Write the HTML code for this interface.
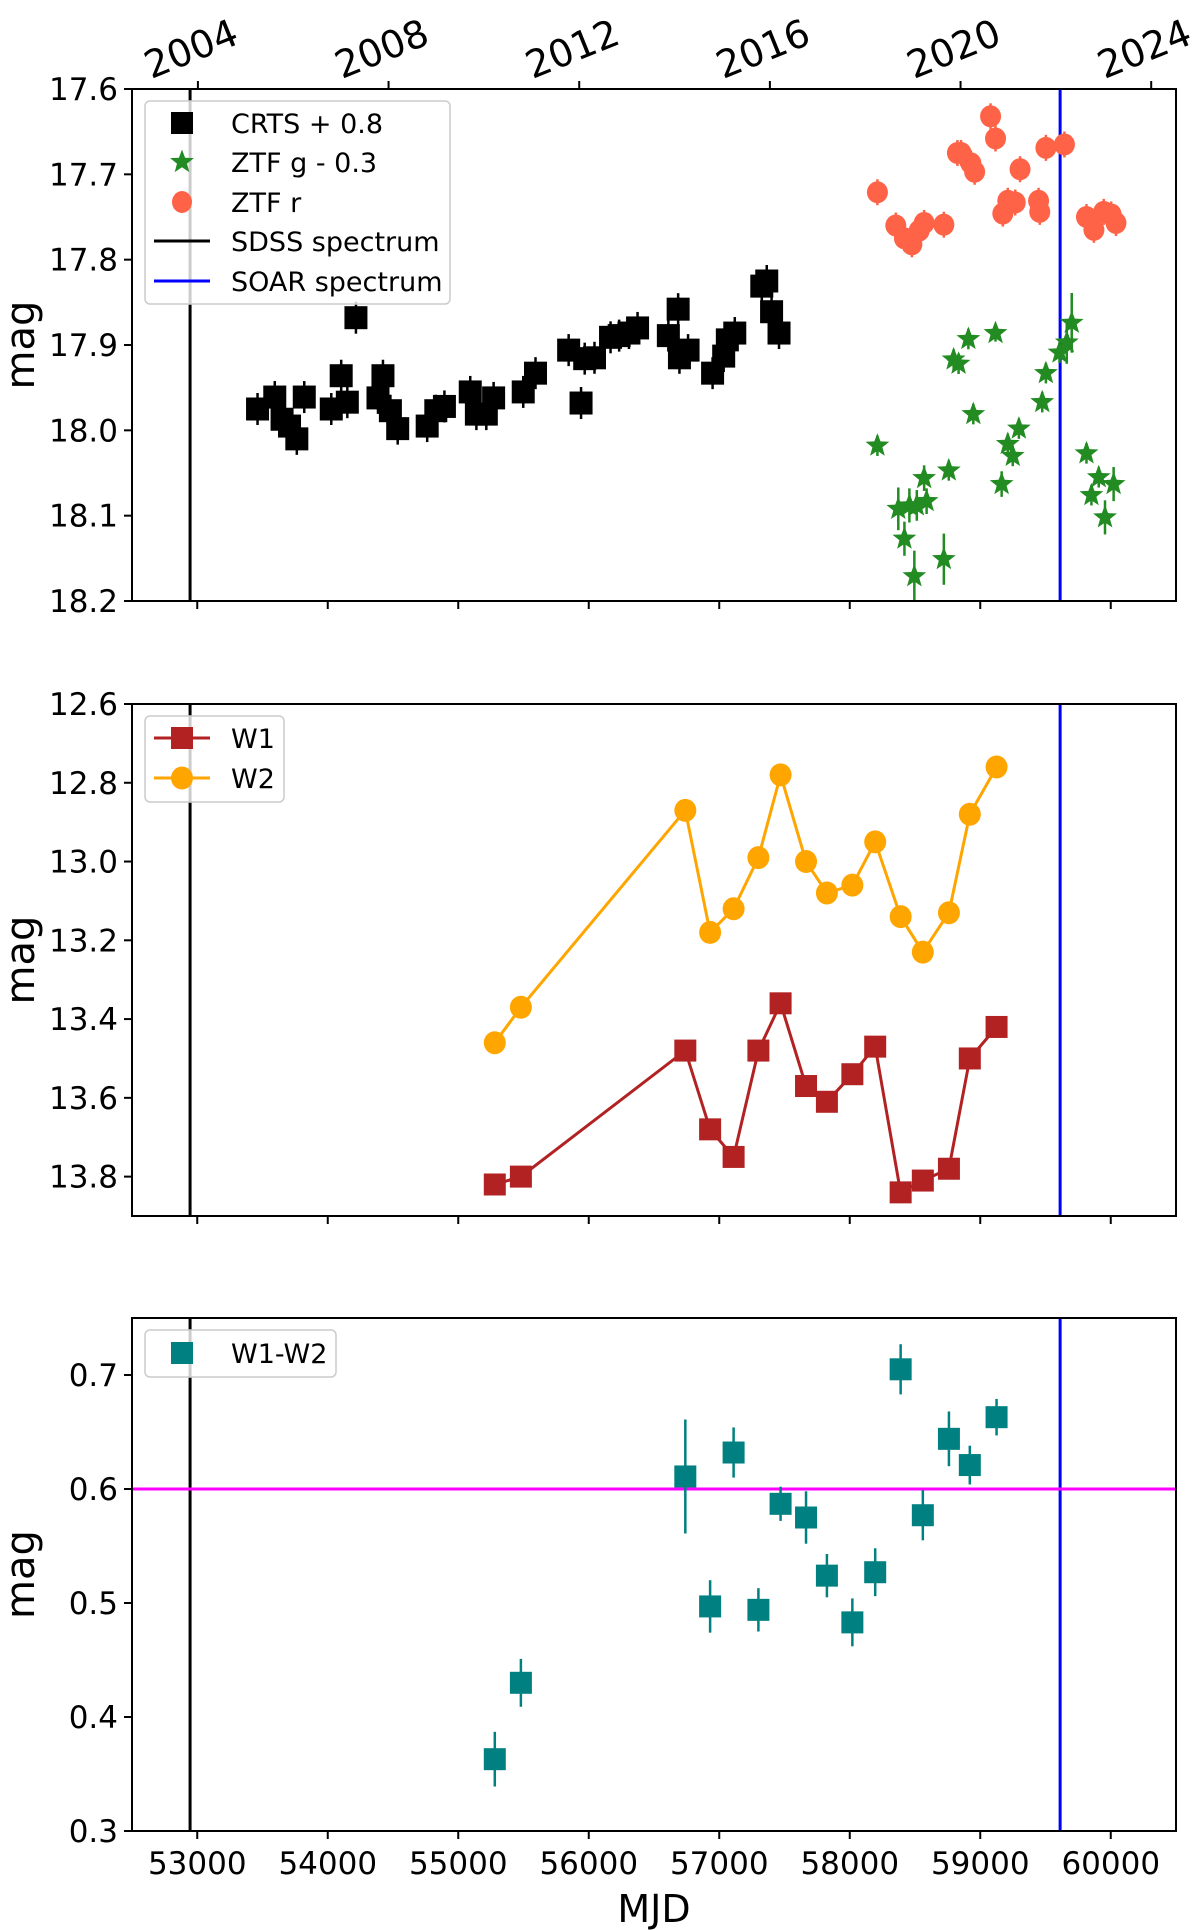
<!DOCTYPE html>
<html><head><meta charset="utf-8"><style>
html,body{margin:0;padding:0;background:#fff;}
svg{display:block;font-family:"DejaVu Sans","Liberation Sans",sans-serif;}
</style></head><body>
<svg id="fig" width="1200" height="1930" viewBox="0 0 1200 1930" xmlns="http://www.w3.org/2000/svg"></svg>
<script>
// ---- data ----
const crtsMjd=[53462,53594,53650,53707,53763,53820,54027,54103,54150,54216,54385,54423,54480,54536,54762,54828,54894,55092,55139,55215,55271,55498,55592,55846,55941,55969,56044,56167,56233,56308,56374,56610,56685,56695,56761,56949,57034,57062,57119,57326,57364,57401,57458];
const crtsMag=[17.975,17.961,17.987,17.995,18.010,17.961,17.975,17.936,17.967,17.868,17.962,17.936,17.977,17.998,17.995,17.977,17.972,17.955,17.981,17.981,17.962,17.955,17.933,17.906,17.968,17.916,17.915,17.891,17.889,17.886,17.880,17.889,17.858,17.915,17.906,17.933,17.913,17.894,17.886,17.831,17.825,17.861,17.886];
const ztfrMjd=[58212,58353,58419,58476,58532,58570,58721,58825,58853,58928,58957,59079,59117,59173,59211,59268,59305,59447,59456,59503,59645,59814,59871,59946,60003,60040];
const ztfrMag=[17.721,17.760,17.775,17.782,17.766,17.757,17.759,17.675,17.675,17.687,17.697,17.632,17.658,17.746,17.731,17.733,17.694,17.731,17.744,17.669,17.665,17.750,17.765,17.744,17.747,17.757];
const ztfgMjd=[58212,58372,58419,58495,58457,58514,58570,58589,58721,58759,58796,58834,58909,58947,59117,59164,59211,59249,59296,59475,59503,59607,59663,59701,59814,59852,59908,59956,60022];
const ztfgMag=[18.018,18.092,18.127,18.171,18.088,18.088,18.056,18.083,18.151,18.047,17.917,17.922,17.893,17.981,17.886,18.063,18.016,18.030,17.998,17.967,17.933,17.909,17.897,17.874,18.027,18.076,18.055,18.102,18.063];
const ztfgErr=[0.012,0.025,0.02,0.03,0.02,0.018,0.015,0.015,0.03,0.012,0.012,0.012,0.012,0.012,0.01,0.015,0.012,0.012,0.012,0.012,0.012,0.012,0.025,0.035,0.012,0.012,0.012,0.02,0.02];
const wMjd=[55280,55480,56740,56930,57110,57300,57470,57665,57825,58020,58195,58390,58560,58760,58920,59125];
const w1Mag=[13.82,13.80,13.48,13.68,13.75,13.48,13.36,13.57,13.61,13.54,13.47,13.84,13.81,13.78,13.50,13.42];
const w2Mag=[13.46,13.37,12.87,13.18,13.12,12.99,12.78,13.00,13.08,13.06,12.95,13.14,13.23,13.13,12.88,12.76];
const wColor=[0.363,0.430,0.611,0.497,0.632,0.494,0.587,0.575,0.524,0.483,0.527,0.705,0.577,0.644,0.621,0.663];
const wColorErr=[0.024,0.021,0.05,0.023,0.022,0.019,0.015,0.023,0.019,0.021,0.021,0.022,0.022,0.024,0.017,0.016];
const mjdTicks=[53000,54000,55000,56000,57000,58000,59000,60000];
const yearLabels=["2004","2008","2012","2016","2020","2024"];
const yearMjd=[53005,54466,55927,57388,58849,60310];
const p1Ticks=[17.6,17.7,17.8,17.9,18.0,18.1,18.2];
const p2Ticks=[12.6,12.8,13.0,13.2,13.4,13.6,13.8];
const p3Ticks=[0.3,0.4,0.5,0.6,0.7];
const sdssMjd=52945, soarMjd=59612, colorThresh=0.6;

// ---- layout ----
const svg=document.getElementById('fig');
const NS='http://www.w3.org/2000/svg';
const L=132,R=1176;
const P=[{top:89,bot:601,y0:17.6,y1:18.2},{top:704,bot:1216,y0:12.6,y1:13.9},{top:1318,bot:1831,y0:0.75,y1:0.3}];
const xS=m=>L+(m-52500)/(8000)*(R-L);
function yS(p,v){return p.top+(v-p.y0)/(p.y1-p.y0)*(p.bot-p.top);}
function el(tag,at,parent){const e=document.createElementNS(NS,tag);for(const k in at)e.setAttribute(k,at[k]);(parent||svg).appendChild(e);return e;}
function fmt(v,d){return v.toFixed(d);}
function starPts(cx,cy,r){let s=[];for(let i=0;i<10;i++){const a=-Math.PI/2+i*Math.PI/5;const rr=i%2?r*0.42:r;s.push((cx+rr*Math.cos(a)).toFixed(1)+','+(cy+rr*Math.sin(a)).toFixed(1));}return s.join(' ');}

P.forEach((p,i)=>{
  const g=el('g',{});
  
  
  p.g=g;
});

P.forEach((p,i)=>{
  const a=el('line',{x1:xS(sdssMjd),x2:xS(sdssMjd),y1:p.top,y2:p.bot,stroke:'#000','stroke-width':3},p.g);
  
  
  const b=el('line',{x1:xS(soarMjd),x2:xS(soarMjd),y1:p.top,y2:p.bot,stroke:'#0000ff','stroke-width':3},p.g);
  
  
});

const p1=P[0];
crtsMjd.forEach((m,i)=>{
  const x=xS(m),y=yS(p1,crtsMag[i]);
  el('line',{x1:x,x2:x,y1:y-16,y2:y+16,stroke:'#000','stroke-width':2.5},p1.g);
  const r=el('rect',{x:x-11.5,y:y-11.5,width:23,height:23,fill:'#000'},p1.g);
  
  
});
ztfgMjd.forEach((m,i)=>{
  const x=xS(m),y=yS(p1,ztfgMag[i]),e=(ztfgErr[i])/0.6*(p1.bot-p1.top);
  el('line',{x1:x,x2:x,y1:y-e,y2:y+e,stroke:'#228B22','stroke-width':2.5},p1.g);
  const s=el('polygon',{points:starPts(x,y,12.5),fill:'#228B22'},p1.g);
  
  
});
ztfrMjd.forEach((m,i)=>{
  const x=xS(m),y=yS(p1,ztfrMag[i]);
  el('line',{x1:x,x2:x,y1:y-13,y2:y+13,stroke:'#FF6347','stroke-width':2.5},p1.g);
  const c=el('ellipse',{cx:x,cy:y,rx:10.5,ry:11,fill:'#FF6347'},p1.g);
  
  
});

const p2=P[1];
function poly(arr){return wMjd.map((m,i)=>xS(m).toFixed(1)+','+yS(p2,arr[i]).toFixed(1)).join(' ');}
const l2=el('polyline',{points:poly(w2Mag),fill:'none',stroke:'#FFA500','stroke-width':3},p2.g);


const l1=el('polyline',{points:poly(w1Mag),fill:'none',stroke:'#B22222','stroke-width':3},p2.g);


wMjd.forEach((m,i)=>{
  const x=xS(m);
  const r=el('rect',{x:x-11,y:yS(p2,w1Mag[i])-11,width:22,height:22,fill:'#B22222'},p2.g);
  
  
  const c=el('ellipse',{cx:x,cy:yS(p2,w2Mag[i]),rx:11,ry:11.5,fill:'#FFA500'},p2.g);
  
  
});

const p3=P[2];
const th=el('line',{x1:L,x2:R,y1:yS(p3,colorThresh),y2:yS(p3,colorThresh),stroke:'#ff00ff','stroke-width':3},p3.g);


wMjd.forEach((m,i)=>{
  const x=xS(m),y=yS(p3,wColor[i]),e=wColorErr[i]/0.45*(p3.bot-p3.top);
  el('line',{x1:x,x2:x,y1:y-e,y2:y+e,stroke:'#008080','stroke-width':2.5},p3.g);
  const r=el('rect',{x:x-11,y:y-11,width:22,height:22,fill:'#008080'},p3.g);
  
  
});

const ticksets=[p1Ticks,p2Ticks,p3Ticks];
P.forEach((p,i)=>{
  const f=el('rect',{x:L,y:p.top,width:R-L,height:p.bot-p.top,fill:'none',stroke:'#000','stroke-width':2},p.g);
  
  
  ticksets[i].forEach(v=>{
    const y=yS(p,v);
    el('line',{x1:L-8,x2:L,y1:y,y2:y,stroke:'#000','stroke-width':2},p.g);
    const t=el('text',{x:L-14,y:y+11,'text-anchor':'end','font-size':31,fill:'#000'},p.g);
    t.textContent=fmt(v,1);
    
    
  });
  mjdTicks.forEach(m=>{
    const x=xS(m);
    el('line',{x1:x,x2:x,y1:p.bot,y2:p.bot+8,stroke:'#000','stroke-width':2},p.g);
    if(i===2){
      const t=el('text',{x:x,y:p.bot+43,'text-anchor':'middle','font-size':31,fill:'#000'},p.g);
      t.textContent=m;
      
      
    }
  });
  const yl=el('text',{x:0,y:0,transform:'translate(34,'+((p.top+p.bot)/2)+') rotate(-90)','text-anchor':'middle','font-size':40,fill:'#000'},p.g);
  yl.textContent='mag';
  
  
});
yearMjd.forEach((m,i)=>{
  const x=xS(m);
  el('line',{x1:x,x2:x,y1:P[0].top-8,y2:P[0].top,stroke:'#000','stroke-width':2});
  const t=el('text',{x:0,y:0,transform:'translate('+(x-2)+','+(P[0].top-28)+') rotate(-22)','text-anchor':'middle','font-size':38,fill:'#000'});
  t.textContent=yearLabels[i];
  
  
});
const xl=el('text',{x:654,y:1922,'text-anchor':'middle','font-size':38,fill:'#000'});
xl.textContent='MJD';



function legendBox(x,y,w,h,name){const r=el('rect',{x:x,y:y,width:w,height:h,rx:5,fill:'#fff','fill-opacity':0.8,stroke:'#ccc','stroke-width':1.5});}
function legText(x,y,s){const t=el('text',{x:x,y:y+10,'font-size':27,fill:'#000'});t.textContent=s;}
legendBox(145,101,305,203,'legend-panel-1');
const ly=[123,162,202,241,281];
el('rect',{x:171,y:ly[0]-11,width:22,height:22,fill:'#000'});
el('polygon',{points:starPts(182,ly[1],12.5),fill:'#228B22'});
el('ellipse',{cx:182,cy:ly[2],rx:10,ry:11,fill:'#FF6347'});
el('line',{x1:154,x2:210,y1:ly[3],y2:ly[3],stroke:'#000','stroke-width':3});
el('line',{x1:154,x2:210,y1:ly[4],y2:ly[4],stroke:'#0000ff','stroke-width':3});
legText(231,ly[0],'CRTS + 0.8');legText(231,ly[1],'ZTF g - 0.3');legText(231,ly[2],'ZTF r');legText(231,ly[3],'SDSS spectrum');legText(231,ly[4],'SOAR spectrum');
legendBox(145,716,139,86,'legend-panel-2');
el('line',{x1:154,x2:210,y1:738,y2:738,stroke:'#B22222','stroke-width':3});
el('rect',{x:171,y:727,width:22,height:22,fill:'#B22222'});
el('line',{x1:154,x2:210,y1:778,y2:778,stroke:'#FFA500','stroke-width':3});
el('ellipse',{cx:182,cy:778,rx:11,ry:11.5,fill:'#FFA500'});
legText(231,738,'W1');legText(231,778,'W2');
legendBox(145,1330,191,47,'legend-panel-3');
el('rect',{x:171,y:1342,width:22,height:22,fill:'#008080'});
legText(231,1353,'W1-W2');
</script>
</body></html>
